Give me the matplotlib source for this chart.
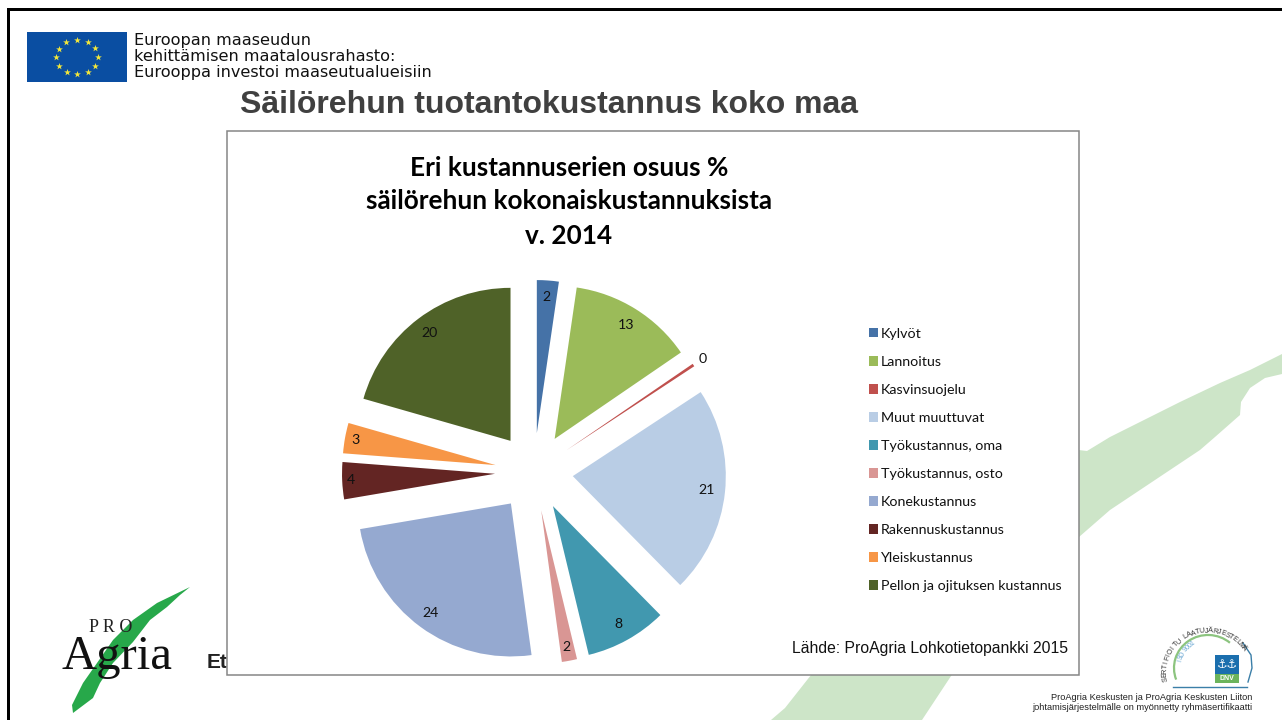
import numpy as np
import matplotlib
matplotlib.use("Agg")
import matplotlib.pyplot as plt
from matplotlib.patches import Polygon, Rectangle, Arc

# pie values (%)
categories = ["Kylvöt", "Lannoitus", "Kasvinsuojelu", "Muut muuttuvat", "Työkustannus, oma",
              "Työkustannus, osto", "Konekustannus", "Rakennuskustannus", "Yleiskustannus",
              "Pellon ja ojituksen kustannus"]
shares = [2.3, 13.1, 0.3, 21.8, 8.6, 1.6, 24.4, 3.9, 3.2, 20.5]
value_labels = ["2", "13", "0", "21", "8", "2", "24", "4", "3", "20"]
colors = ["#4572a7", "#9bbb59", "#c0504d", "#b9cde5", "#4198af",
          "#d99694", "#95a9d0", "#632523", "#f79646", "#4f6228"]
# how far out each value label sits, in pie radii
label_dist = [0.89, 0.88, 1.07, 0.88, 0.88, 0.91, 0.89, 0.945, 0.93, 0.88]

SANS = "Liberation Sans"
BODY = "Lato"
W, H = 1282, 720

fig = plt.figure(figsize=(W / 100, H / 100), dpi=100, facecolor="white")

# whole slide in pixel coords, y going down
bg = fig.add_axes([0, 0, 1, 1])
bg.set_xlim(0, W)
bg.set_ylim(H, 0)
bg.axis("off")

# pale swooshes behind the chart panel
swoosh_right = [(1070, 449), (1087, 451), (1110, 437), (1140, 422), (1180, 402), (1220, 383),
                (1250, 370), (1282, 354), (1282, 374), (1265, 378), (1250, 388), (1241, 402),
                (1240, 415), (1215, 437), (1200, 450), (1170, 470), (1140, 490), (1110, 510),
                (1079, 537), (1070, 545)]
swoosh_bottom = [(815, 670), (955, 670), (922, 720), (771, 720), (785, 708)]
bg.add_patch(Polygon(swoosh_right, fc="#cde5c8", ec="none", zorder=1))
bg.add_patch(Polygon(swoosh_bottom, fc="#cde5c8", ec="none", zorder=1))

# slide frame
bg.add_patch(Rectangle((6.5, 8), W, 3, fc="black", ec="none", zorder=2))
bg.add_patch(Rectangle((6.5, 8), 3, H, fc="black", ec="none", zorder=2))

# EU flag
bg.add_patch(Rectangle((27, 32), 100, 50, fc="#0a4ea2", ec="none", zorder=2))
star_a = np.arange(12) * np.pi / 6
bg.scatter(77 + 21 * np.cos(star_a), 57 + 17 * np.sin(star_a), marker="*", s=26,
           c="#f5e83a", linewidths=0, zorder=3)
for y, line in zip([40, 56.5, 73], ["Euroopan maaseudun", "kehittämisen maatalousrahasto:",
                                    "Eurooppa investoi maaseutualueisiin"]):
    bg.text(134, y, line, fontsize=11.6, family="DejaVu Sans", color="#111111", va="center", zorder=3)

bg.text(240, 105, "Säilörehun tuotantokustannus koko maa", fontsize=23, family=SANS,
        weight="bold", color="#404040", va="center", zorder=3)

# ProAgria logo
leaf = [(190, 587), (157, 603), (133, 620), (113, 640), (97, 663), (83, 683), (72, 705),
        (73, 713), (93, 698), (100, 683), (113, 663), (133, 642), (150, 620), (167, 607),
        (180, 595)]
bg.add_patch(Polygon(leaf, fc="#27a84a", ec="none", zorder=2))
bg.text(89, 627, "P R O", fontsize=13, family="Liberation Serif", color="#222222",
        va="center", zorder=3)
bg.text(61, 669, "Agria", fontsize=35, family="Liberation Serif", color="#111111",
        va="baseline", zorder=3)
bg.text(207, 668, "Et", fontsize=15, family=SANS, weight="bold", color="#222222",
        va="baseline", zorder=3)

# chart panel
bg.add_patch(Rectangle((227, 131), 852, 544, fc="white", ec="#868686", lw=1.1, zorder=4))
bg.text(569, 168, "Eri kustannuserien osuus %", fontsize=18.8, family=BODY, weight="bold",
        ha="center", va="center", zorder=5)
bg.text(569, 201, "säilörehun kokonaiskustannuksista", fontsize=18.8, family=BODY, weight="bold",
        ha="center", va="center", zorder=5)
bg.text(569, 236, "v. 2014", fontsize=18.8, family=BODY, weight="bold",
        ha="center", va="center", zorder=5)
bg.text(1068, 648, "Lähde: ProAgria Lohkotietopankki 2015", fontsize=11.3, family=SANS,
        color="#111111", ha="right", va="center", zorder=5)

# certificate badge
bg.add_patch(Arc((1208, 668), 68, 66, theta1=160, theta2=311, color="#8cc47f", lw=1.6, zorder=3))
bg.plot([1243, 1251, 1252, 1248], [643, 655, 668, 682], color="#3b7fa8", lw=1, zorder=3)
bg.plot([1173, 1247], [687, 687], color="#3b7fa8", lw=1, zorder=3)
badge = "SERTIFIOITU LAATUJÄRJESTELMÄ"
for ch, a in zip(badge, np.linspace(190, 35, len(badge))):
    r = np.radians(a)
    bg.text(1208 + 43 * np.cos(r), 672 - 41 * np.sin(r), ch, fontsize=5.2, family=SANS,
            rotation=a - 90, color="#333333", ha="center", va="center", zorder=3)
iso = "ISO 9001"
for ch, a in zip(iso, np.linspace(165, 122, len(iso))):
    r = np.radians(a)
    bg.text(1208 + 29 * np.cos(r), 668 - 29 * np.sin(r), ch, fontsize=5, family=SANS,
            rotation=a - 90, color="#6aa7d3", ha="center", va="center", zorder=3)
bg.add_patch(Rectangle((1215, 655), 24, 19, fc="#1b6fae", ec="none", zorder=3))
bg.add_patch(Rectangle((1215, 674), 24, 9, fc="#6cb45c", ec="none", zorder=3))
bg.text(1227, 664.5, "⚓⚓", fontsize=8.5, color="white", ha="center", va="center", zorder=4)
bg.text(1227, 678.5, "DNV", fontsize=5, family=SANS, weight="bold", color="white",
        ha="center", va="center", zorder=4)
bg.text(1252, 697, "ProAgria Keskusten ja ProAgria Keskusten Liiton", fontsize=6.65, family=SANS,
        color="#222222", ha="right", va="center", zorder=3)
bg.text(1252, 707, "johtamisjärjestelmälle on myönnetty ryhmäsertifikaatti", fontsize=6.65,
        family=SANS, color="#222222", ha="right", va="center", zorder=3)

# pie axes: centre (534, 472), radius 153 px
R, cx, cy = 153, 534, 472
span = 1.6 * R
ax = fig.add_axes([(cx - span) / W, (H - cy - span) / H, 2 * span / W, 2 * span / H])
ax.patch.set_alpha(0)
wedges, _ = ax.pie(shares, colors=colors, explode=[0.255] * len(shares), startangle=90,
                   counterclock=False, normalize=True, wedgeprops={"linewidth": 0})
ax.set_xlim(-1.6, 1.6)
ax.set_ylim(-1.6, 1.6)

for w, lab, dist in zip(wedges, value_labels, label_dist):
    mid = np.radians((w.theta1 + w.theta2) / 2)
    ax.text(w.center[0] + dist * np.cos(mid), w.center[1] + dist * np.sin(mid), lab,
            fontsize=10.2, family=BODY, color="#111111", ha="center", va="center")

leg = ax.legend(wedges, categories, loc="center left", frameon=False,
                bbox_to_anchor=(869 / W, (H - 460) / H), bbox_transform=fig.transFigure,
                prop={"family": BODY, "size": 10.3}, labelspacing=1.12, handlelength=0.62,
                handleheight=0.62, handletextpad=0.22, borderpad=0, borderaxespad=0)
for t in leg.get_texts():
    t.set_color("#111111")

fig.savefig("out.png", dpi=100)
